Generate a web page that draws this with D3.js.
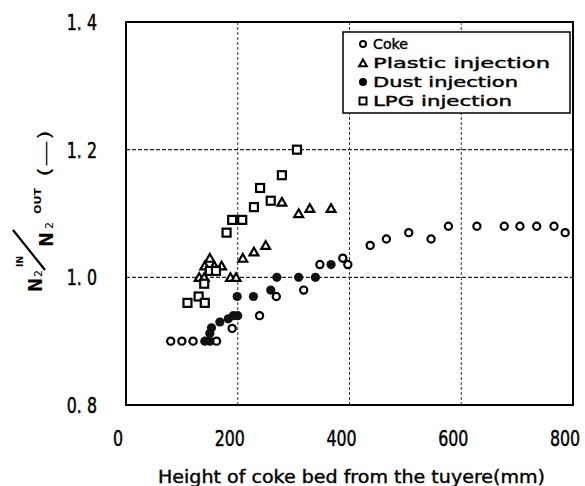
<!DOCTYPE html>
<html>
<head>
<meta charset="utf-8">
<script src="https://cdn.jsdelivr.net/npm/d3@7"></script>
<style>
  body { margin: 0; background: #fff; }
  text { font-family: "DejaVu Sans", sans-serif; fill: #000; }
</style>
</head>
<body>
<svg></svg>
<script>
var width = 585,
    height = 486;

// data
var coke = [[80,0.90],[100,0.90],[120,0.90],[162,0.90],[190,0.92],[239,0.94],[269,0.97],
  [318,0.98],[347,1.02],[388,1.03],[397,1.02],[437,1.05],[466,1.06],[506,1.07],[546,1.06],
  [577,1.08],[628,1.08],[677,1.08],[705,1.08],[735,1.08],[766,1.08],[786,1.07]];
var plastic = [[131,1.00],[140,1.00],[141,1.018],[150,1.03],[158,1.018],[171,1.018],[187,1.00],
  [197,1.00],[209,1.03],[229,1.04],[250,1.05],[279,1.118],[309,1.10],[329,1.108],[367,1.108]];
var dust = [[141,0.90],[150,0.90],[150,0.912],[153,0.921],[168,0.93],[183,0.935],[192,0.94],
  [200,0.94],[199,0.97],[228,0.97],[259,0.98],[270,1.00],[309,1.00],[339,1.00],[367,1.02]];
var lpg = [[110,0.96],[130,0.97],[141,0.96],[140,0.99],[150,1.01],[161,1.01],[180,1.07],
  [190,1.09],[208,1.09],[229,1.11],[240,1.14],[259,1.12],[279,1.16],[306,1.20]];

var xTicks = [0, 200, 400, 600, 800];
var yTicks = [0.8, 1.0, 1.2, 1.4];
var legendNames = ["Coke", "Plastic injection", "Dust injection", "LPG injection"];

var svg = d3.select("svg")
    .attr("width", width)
    .attr("height", height);

var pLeft = 126, pRight = 573, pTop = 22, pBottom = 405;

var x = d3.scaleLinear().domain([0, 800]).range([pLeft, pRight]);
var y = d3.scaleLinear().domain([0.8, 1.4]).range([pBottom, pTop]);

//grid
svg.append("g").selectAll("line")
    .data([200, 400, 600])
  .enter().append("line")
    .attr("x1", d => x(d)).attr("x2", d => x(d))
    .attr("y1", pTop).attr("y2", pBottom)
    .attr("stroke", "#333").attr("stroke-width", 1)
    .attr("stroke-dasharray", "3,2");
svg.append("g").selectAll("line")
    .data([1.0, 1.2])
  .enter().append("line")
    .attr("y1", d => y(d)).attr("y2", d => y(d))
    .attr("x1", pLeft).attr("x2", pRight)
    .attr("stroke", "#222").attr("stroke-width", 1.2)
    .attr("stroke-dasharray", "4,2");

//frame
svg.append("rect")
    .attr("x", pLeft).attr("y", pTop)
    .attr("width", pRight - pLeft).attr("height", pBottom - pTop)
    .attr("fill", "none").attr("stroke", "#000").attr("stroke-width", 2);

//tick labels, squeezed horizontally like the narrow original font
svg.append("g").selectAll("text")
    .data(xTicks)
  .enter().append("text")
    .attr("transform", d => "translate(" + (x(d) - 8) + ",446) scale(0.72,1)")
    .attr("text-anchor", "middle")
    .attr("font-size", 22)
    .attr("stroke", "#000").attr("stroke-width", 0.5)
    .text(d => d);

svg.append("g").selectAll("text")
    .data(yTicks)
  .enter().append("text")
    .attr("transform", d => "translate(97," + (y(d) + 8) + ") scale(0.72,1)")
    .attr("text-anchor", "end")
    .attr("font-size", 22)
    .attr("stroke", "#000").attr("stroke-width", 0.5)
    .text(d => d3.format(".1f")(d).replace(".", ". "));

//axis title
svg.append("text")
    .attr("x", 158).attr("y", 483)
    .attr("font-size", 17)
    .attr("stroke", "#000").attr("stroke-width", 0.4)
    .attr("textLength", 387)
    .attr("lengthAdjust", "spacingAndGlyphs")
    .text("Height of coke bed from the tuyere(mm)");

//y label, built in the rotated frame (tx = -pageY, ty = pageX)
var yl = svg.append("g").attr("transform", "rotate(-90)");
function ytext(s, tx, ty, size, len, weight) {
  yl.append("text")
    .attr("x", tx).attr("y", ty)
    .attr("font-size", size)
    .attr("font-weight", weight || "normal")
    .attr("textLength", len)
    .attr("lengthAdjust", "spacingAndGlyphs")
    .text(s);
}
ytext("N", -292, 42, 20, 14, 600);
ytext("2", -277, 42, 11, 7);
ytext("IN", -267, 23, 9, 11, "bold");
ytext("N", -247, 53, 20, 15, 600);
ytext("2", -229, 53, 11, 7);
ytext("OUT", -214, 41, 9, 26, "bold");
ytext("(—)", -177, 51, 18, 47);
svg.append("line")
    .attr("x1", 13).attr("y1", 230)
    .attr("x2", 45).attr("y2", 270)
    .attr("stroke", "#000").attr("stroke-width", 2.2);

//markers
var sqSize = 8;
var triangle = d3.symbol().type(d3.symbolTriangle).size(34);

var plot = svg.append("g");

plot.selectAll(".coke")
    .data(coke)
  .enter().append("circle")
    .attr("class", "coke")
    .attr("cx", d => x(d[0])).attr("cy", d => y(d[1]))
    .attr("r", 3.6)
    .attr("fill", "#fff").attr("stroke", "#000").attr("stroke-width", 2.2);

plot.selectAll(".plastic")
    .data(plastic)
  .enter().append("path")
    .attr("class", "plastic")
    .attr("d", triangle)
    .attr("transform", d => "translate(" + x(d[0]) + "," + (y(d[1]) + 1) + ")")
    .attr("fill", "#fff").attr("stroke", "#000").attr("stroke-width", 2.2);

plot.selectAll(".lpg")
    .data(lpg)
  .enter().append("rect")
    .attr("class", "lpg")
    .attr("x", d => x(d[0]) - sqSize / 2).attr("y", d => y(d[1]) - sqSize / 2)
    .attr("width", sqSize).attr("height", sqSize)
    .attr("fill", "#fff").attr("stroke", "#000").attr("stroke-width", 2.2);

plot.selectAll(".dust")
    .data(dust)
  .enter().append("circle")
    .attr("class", "dust")
    .attr("cx", d => x(d[0])).attr("cy", d => y(d[1]))
    .attr("r", 4.6)
    .attr("fill", "#111");

//legend
var lg = svg.append("g");
lg.append("rect")
    .attr("x", 343).attr("y", 32)
    .attr("width", 227).attr("height", 81)
    .attr("fill", "#fff").attr("stroke", "#000").attr("stroke-width", 1.5);

var rowY = [44, 63, 82, 101];
var textLen = [35, 177, 145, 139];
lg.selectAll("text")
    .data(legendNames)
  .enter().append("text")
    .attr("x", 373)
    .attr("y", (d, i) => rowY[i] + 5)
    .attr("font-size", 14)
    .attr("stroke", "#000").attr("stroke-width", 0.4)
    .attr("textLength", (d, i) => textLen[i])
    .attr("lengthAdjust", "spacingAndGlyphs")
    .text(d => d);

lg.append("circle")
    .attr("cx", 363).attr("cy", rowY[0])
    .attr("r", 3).attr("fill", "#fff").attr("stroke", "#000").attr("stroke-width", 2);
lg.append("path")
    .attr("d", d3.symbol().type(d3.symbolTriangle).size(26))
    .attr("transform", "translate(363," + (rowY[1] + 1) + ")")
    .attr("fill", "#fff").attr("stroke", "#000").attr("stroke-width", 2);
lg.append("circle")
    .attr("cx", 363).attr("cy", rowY[2])
    .attr("r", 4).attr("fill", "#000");
lg.append("rect")
    .attr("x", 359.5).attr("y", rowY[3] - 3.5)
    .attr("width", 7).attr("height", 7)
    .attr("fill", "#fff").attr("stroke", "#000").attr("stroke-width", 2);
</script>
</body>
</html>
